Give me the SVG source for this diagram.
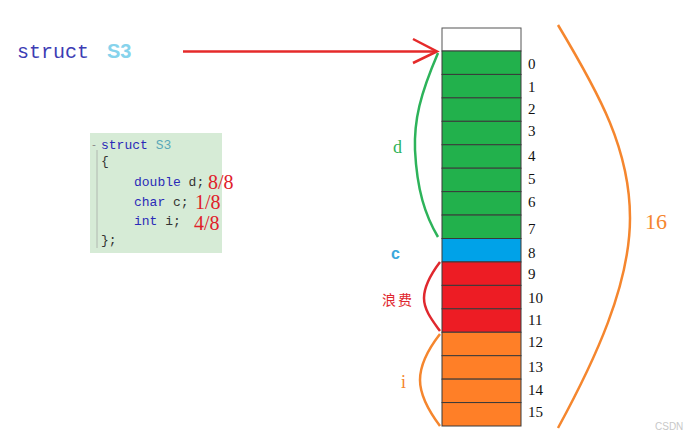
<svg xmlns="http://www.w3.org/2000/svg" width="688" height="432" viewBox="0 0 688 432">
<style>
.cell{stroke:#3a3a3a;stroke-width:1}
.idx{font-family:"Liberation Serif",serif;font-size:15px;fill:#111}
.code{font-family:"Liberation Mono",monospace;font-size:13px}
.kw{fill:#2a2ab8}
.id{fill:#333}
.frac{font-family:"Liberation Serif",serif;font-size:20px;fill:#e0202a}
.br{fill:none;stroke-width:2.5}
</style>
<rect width="688" height="432" fill="#fff"/>
<g id="title">
<text x="17" y="58" font-family="Liberation Mono,monospace" font-size="20" fill="#3c3cb4">struct</text>
<text x="107" y="58" font-family="Liberation Sans,sans-serif" font-size="20" font-weight="bold" fill="#86d3ec">S3</text>
</g>
<g id="code">
<rect x="90" y="133" width="132" height="120" fill="#d6ebd6"/>
<line x1="97" y1="150" x2="97" y2="248" stroke="#b0b8b0" stroke-width="1"/>
<text x="91" y="148" font-family="Liberation Mono,monospace" font-size="10" fill="#888">-</text>
<text x="101" y="149" class="code"><tspan class="kw">struct</tspan> <tspan fill="#5aa8b8">S3</tspan></text>
<text x="101" y="165" class="code id">{</text>
<text x="134" y="186" class="code"><tspan class="kw">double</tspan><tspan class="id"> d;</tspan></text>
<text x="134" y="206" class="code"><tspan class="kw">char</tspan><tspan class="id"> c;</tspan></text>
<text x="134" y="225" class="code"><tspan class="kw">int</tspan><tspan class="id"> i;</tspan></text>
<text x="101" y="244" class="code id">};</text>
<text x="208" y="189" class="frac">8/8</text>
<text x="195" y="209" class="frac">1/8</text>
<text x="194" y="230" class="frac">4/8</text>
</g>
<g id="connectors">
<line x1="183" y1="51.5" x2="436" y2="51.5" stroke="#e52a2a" stroke-width="2.5"/>
<polyline points="413,39 437,51.5 413,63" fill="none" stroke="#e52a2a" stroke-width="2.5"/>
</g>
<g id="memory">
<rect x="442" y="28" width="79" height="23" fill="#fff" stroke="#555" stroke-width="1"/>
<g fill="#22b14c" class="cell">
<rect x="442" y="51" width="79" height="23.44"/>
<rect x="442" y="74.44" width="79" height="23.44"/>
<rect x="442" y="97.88" width="79" height="23.44"/>
<rect x="442" y="121.31" width="79" height="23.44"/>
<rect x="442" y="144.75" width="79" height="23.44"/>
<rect x="442" y="168.19" width="79" height="23.44"/>
<rect x="442" y="191.63" width="79" height="23.44"/>
<rect x="442" y="215.06" width="79" height="23.44"/>
</g>
<rect x="442" y="238.5" width="79" height="23.44" fill="#00a2e8" class="cell"/>
<g fill="#ed1c24" class="cell">
<rect x="442" y="261.94" width="79" height="23.44"/>
<rect x="442" y="285.38" width="79" height="23.44"/>
<rect x="442" y="308.81" width="79" height="23.44"/>
</g>
<g fill="#ff7f27" class="cell">
<rect x="442" y="332.25" width="79" height="23.44"/>
<rect x="442" y="355.69" width="79" height="23.44"/>
<rect x="442" y="379.13" width="79" height="23.44"/>
<rect x="442" y="402.56" width="79" height="23.44"/>
</g>
<g class="idx">
<text x="528" y="69">0</text>
<text x="528" y="92">1</text>
<text x="528" y="114">2</text>
<text x="528" y="136">3</text>
<text x="528" y="161">4</text>
<text x="528" y="184">5</text>
<text x="528" y="207">6</text>
<text x="528" y="234">7</text>
<text x="528" y="258">8</text>
<text x="528" y="279">9</text>
<text x="528" y="303">10</text>
<text x="528" y="325">11</text>
<text x="528" y="347">12</text>
<text x="528" y="372">13</text>
<text x="528" y="395">14</text>
<text x="528" y="417">15</text>
</g>
</g>
<g id="brace-d">
<path d="M438,53 C420,95 414,120 415,150 C417,190 425,215 438,237" class="br" stroke="#2db35a"/>
<text x="393" y="153" font-family="Liberation Serif,serif" font-size="18" fill="#2db35a">d</text>
</g>
<g id="label-c">
<text x="391" y="259" font-family="Liberation Sans,sans-serif" font-size="16" font-weight="bold" fill="#3aa8dc">c</text>
</g>
<g id="brace-waste">
<path d="M440,262 C428,278 424,288 424,298 C424,310 432,320 440,331" class="br" stroke="#e0282e"/>
<text x="382" y="305" font-family="Noto Sans CJK SC,sans-serif" font-size="14" fill="#e0282e" letter-spacing="2">浪费</text>
</g>
<g id="brace-i">
<path d="M440,334 C426,352 420,367 420,380 C420,395 428,410 440,426" class="br" stroke="#f5862e"/>
<text x="401" y="388" font-family="Liberation Serif,serif" font-size="18" fill="#f5862e">i</text>
</g>
<g id="brace-16">
<path d="M558,25 C600,95 630,150 630,218 C630,285 595,360 558,428" class="br" stroke="#f5862e"/>
<text x="645" y="229" font-family="Liberation Serif,serif" font-size="22" fill="#f5862e">16</text>
</g>
<text x="655" y="430" font-family="Liberation Sans,sans-serif" font-size="10" fill="#c8c8c8">CSDN</text>
</svg>
